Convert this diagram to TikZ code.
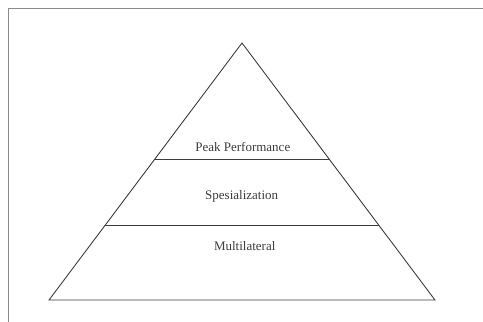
\documentclass[tikz,border=0pt]{standalone}
\usepackage{fontspec}
\setmainfont{Liberation Serif}
\usetikzlibrary{calc}
\definecolor{ink}{HTML}{3C3C3C}
\definecolor{rule}{HTML}{8A8A8A}

\begin{document}
\begin{tikzpicture}[x=1pt,y=-1pt,font=\fontsize{13}{15}\selectfont,
  edge/.style={draw=ink,line width=0.9pt},
  level/.style={text=ink,inner sep=0pt,anchor=base}]
  \useasboundingbox (0,0) rectangle (483,322);
  % open frame, top and left only
  \draw[rule,line width=1pt] (8.5,322) -- (8.5,8.5) -- (483,8.5);
  % pyramid
  \coordinate (apex) at (242,43);
  \coordinate (bl) at (49,300);
  \coordinate (br) at (435,300);
  \draw[edge,line join=miter] (apex) -- (br) -- (bl) -- cycle;
  \coordinate (upl) at ($(apex)!0.455!(bl)$);
  \coordinate (upr) at ($(apex)!0.455!(br)$);
  \coordinate (lol) at ($(apex)!0.708!(bl)$);
  \coordinate (lor) at ($(apex)!0.708!(br)$);
  \draw[edge] (upl) -- (upr);
  \draw[edge] (lol) -- (lor);
  \node[level] (peak) at (242.8,151.7) {Peak Performance};
  \node[level] (spec) at (241.7,199) {Spesialization};
  \node[level] (multi) at (244.7,250.5) {Multilateral};
\end{tikzpicture}
\end{document}
